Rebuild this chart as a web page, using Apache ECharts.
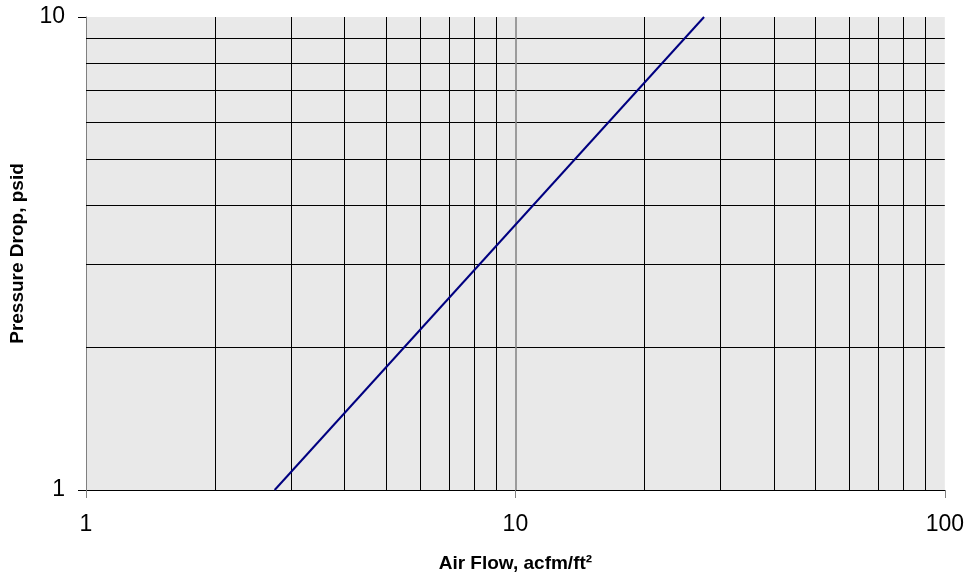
<!DOCTYPE html>
<html>
<head>
<meta charset="utf-8">
<script src="https://cdn.jsdelivr.net/npm/echarts@6/dist/echarts.min.js"></script>
<style>
  html, body { margin: 0; padding: 0; background: #fff; }
  #chart { width: 967px; height: 578px; }
</style>
</head>
<body>
<div id="chart"></div>
<script>
// Pressure drop vs. air flow (log-log)
const flowPoints = [2.75, 27.5];          // acfm/ft²
const pressurePoints = [1, 10];           // psid
const xGridValues = [2, 3, 4, 5, 6, 7, 8, 9, 20, 30, 40, 50, 60, 70, 80, 90];
const xMajorGrid = [10];
const yGridValues = [2, 3, 4, 5, 6, 7, 8, 9];
const xRange = [1, 100];
const yRange = [1, 10];

const lineData = flowPoints.map((x, i) => [x, pressurePoints[i]]);
const FONT = '"Liberation Sans", Arial, sans-serif';

const chart = echarts.init(document.getElementById('chart'), null, { renderer: 'canvas' });

chart.setOption({
  animation: false,
  grid: {
    left: 86, right: 22, top: 17, bottom: 85,
    show: true, backgroundColor: '#e9e9e9', borderWidth: 0
  },
  xAxis: {
    type: 'log', logBase: 10, min: xRange[0], max: xRange[1],
    name: 'Air Flow, acfm/ft²', nameLocation: 'middle', nameGap: 64,
    nameTextStyle: { fontFamily: FONT, fontSize: 19, fontWeight: 'bold', color: '#000' },
    axisLine: { show: true, lineStyle: { color: '#000', width: 1 } },
    axisTick: { show: true, inside: false, length: 8, lineStyle: { color: '#808080' } },
    axisLabel: { fontFamily: FONT, fontSize: 23, color: '#000', margin: 23,
                 formatter: v => String(Math.round(v)) },
    splitLine: { show: false },
    minorTick: { show: false }
  },
  yAxis: {
    type: 'log', logBase: 10, min: yRange[0], max: yRange[1],
    name: 'Pressure Drop, psid', nameLocation: 'middle', nameGap: 59, nameRotate: 90,
    nameTextStyle: { fontFamily: FONT, fontSize: 19, fontWeight: 'bold', color: '#000' },
    axisLine: { show: true, lineStyle: { color: '#808080', width: 1 } },
    axisTick: { show: true, inside: false, length: 8, lineStyle: { color: '#000' } },
    axisLabel: { fontFamily: FONT, fontSize: 23, color: '#000', margin: 21,
                 formatter: v => String(Math.round(v)) },
    splitLine: { show: false },
    minorTick: { show: false }
  },
  series: [
    {
      name: 'grid', type: 'line', data: [], z: 1, silent: true,
      markLine: {
        silent: true, symbol: 'none', animation: false,
        label: { show: false },
        lineStyle: { color: '#000', width: 1, type: 'solid' },
        data: xGridValues.map(v => ({ xAxis: v }))
          .concat(yGridValues.map(v => ({ yAxis: v })))
      }
    },
    {
      name: 'major', type: 'line', data: [], z: 1, silent: true,
      markLine: {
        silent: true, symbol: 'none', animation: false,
        label: { show: false },
        lineStyle: { color: '#808080', width: 1.5, type: 'solid' },
        data: xMajorGrid.map(v => ({ xAxis: v }))
      }
    },
    {
      name: 'Pressure Drop', type: 'line', data: lineData, z: 5,
      showSymbol: false, symbol: 'none', clip: true,
      lineStyle: { color: '#000080', width: 2 }
    }
  ]
});
</script>
</body>
</html>
